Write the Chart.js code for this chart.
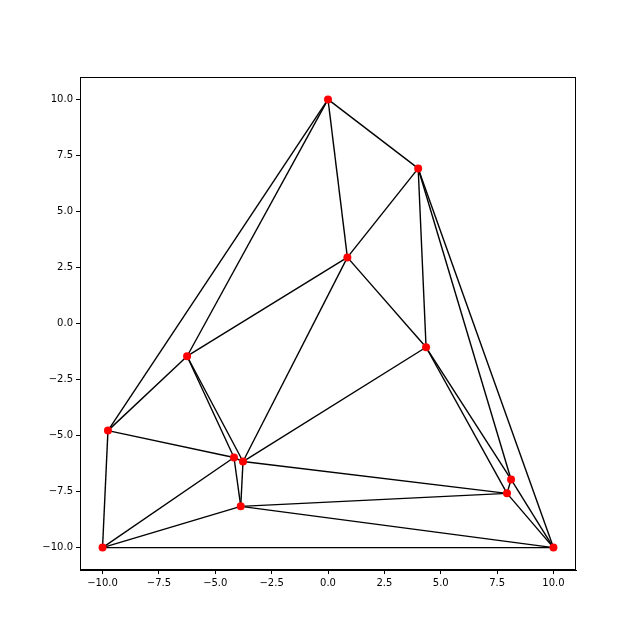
<!DOCTYPE html>
<html>
<head>
<meta charset="utf-8">
<script src="https://cdn.jsdelivr.net/npm/chart.js@4.4.1/dist/chart.umd.min.js"></script>
<style>
  html, body { margin: 0; padding: 0; background: #fff; }
  #wrap { width: 640px; height: 640px; }
</style>
</head>
<body>
<div id="wrap"><canvas id="tri" width="640" height="640"></canvas></div>
<script>
// triangulation vertices
const pointX = [0, 4.0, 0.86, 4.35, -6.25, -9.76, -4.17, -3.77, -3.87, -10, 10, 8.12, 7.94];
const pointY = [10, 6.92, 2.95, -1.06, -1.46, -4.78, -5.98, -6.16, -8.16, -10, -10, -6.96, -7.58];

// edges as index pairs into the vertex arrays
const edgeFrom = [0, 0, 0, 0, 1, 1, 1, 1, 2, 2, 2, 3, 3, 3, 4, 4, 4, 5, 5, 6, 6, 6, 7, 7, 8, 8, 8, 9, 10, 10, 11];
const edgeTo   = [5, 4, 2, 1, 2, 3, 11, 10, 3, 4, 7, 7, 12, 11, 5, 6, 7, 6, 9, 7, 8, 9, 12, 8, 9, 12, 10, 10, 12, 11, 12];

const xTicks = [-10, -7.5, -5, -2.5, 0, 2.5, 5, 7.5, 10];
const yTicks = [-10, -7.5, -5, -2.5, 0, 2.5, 5, 7.5, 10];

const fmt = v => (v < 0 ? '\u2212' : '') + Math.abs(v).toFixed(1);

const edgeSets = edgeFrom.map((a, i) => {
  const b = edgeTo[i];
  return {
    data: [{ x: pointX[a], y: pointY[a] }, { x: pointX[b], y: pointY[b] }],
    showLine: true,
    borderColor: '#000',
    borderWidth: 1.4,
    pointRadius: 0,
    order: 1,
  };
});

const pointSet = {
  data: pointX.map((x, i) => ({ x, y: pointY[i] })),
  showLine: false,
  pointRadius: 4,
  pointBackgroundColor: '#ff0000',
  pointBorderWidth: 0,
  order: -1,
};

const frameBox = {
  id: 'frameBox',
  afterDraw(chart) {
    const { ctx, chartArea: { left, top, right, bottom } } = chart;
    ctx.save();
    ctx.strokeStyle = '#000';
    ctx.lineWidth = 1;
    ctx.strokeRect(left + 0.5, top + 0.5, right - left - 1, bottom - top - 1);
    ctx.restore();
  },
};

const axisStyle = (ticks) => ({
  type: 'linear',
  min: -11,
  max: 11,
  afterBuildTicks: s => { s.ticks = ticks.map(v => ({ value: v })); },
  ticks: {
    color: '#000',
    font: { family: 'DejaVu Sans', size: 10 },
    padding: 3,
    autoSkip: false,
    maxRotation: 0,
    callback: v => fmt(v),
  },
  grid: { drawOnChartArea: false, drawTicks: true, tickLength: 4, color: '#000' },
  border: { display: true, color: '#000' },
});

const xScale = axisStyle(xTicks);
xScale.afterFit = s => { s.height = 70; };
const yScale = axisStyle(yTicks);
yScale.afterFit = s => { s.width = 80; };

new Chart(document.getElementById('tri').getContext('2d'), {
  type: 'scatter',
  plugins: [frameBox],
  data: { datasets: [pointSet, ...edgeSets] },
  options: {
    responsive: false,
    animation: false,
    devicePixelRatio: 1,
    layout: { padding: { left: 0, top: 77, right: 64, bottom: 0 } },
    plugins: { legend: { display: false }, tooltip: { enabled: false } },
    scales: { x: xScale, y: yScale },
  },
});
</script>
</body>
</html>
